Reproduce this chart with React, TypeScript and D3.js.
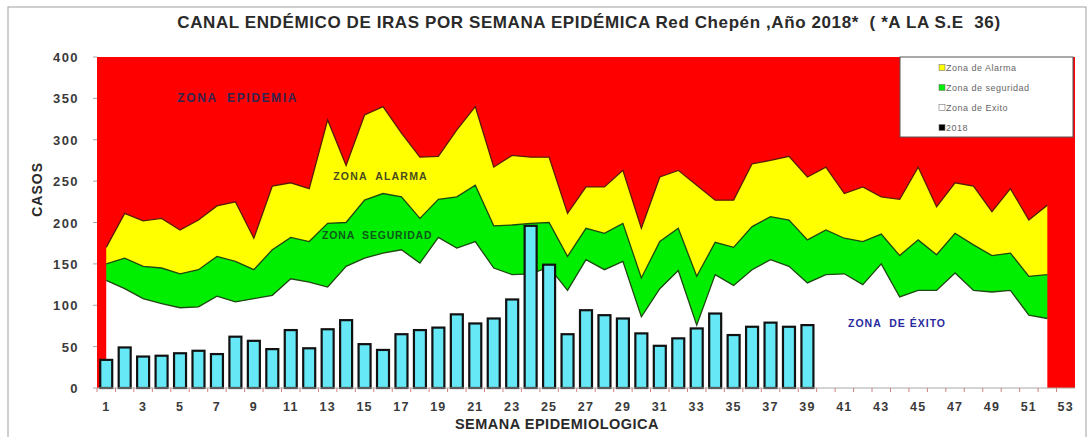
import { useEffect } from "react";
import * as d3 from "d3";

// semanas epidemiologicas 1..53
const semanas = d3.range(1, 54);

// casos 2018 (hasta la S.E 39)
const casos2018 = [
  34, 49, 38, 39, 42, 45, 41, 62, 57, 47, 70, 48, 71, 82, 53, 46, 65, 70, 73, 89,
  78, 84, 107, 196, 149, 65, 94, 88, 84, 66, 51, 60, 72, 90, 64, 74, 79, 74, 76,
];

// limite superior zona de alarma (semanas 1..52)
const zonaAlarma = [
  170, 211, 202, 205, 191, 203, 220, 225, 181, 244, 248, 241, 324, 269, 330, 340,
  308, 279, 280, 312, 340, 267, 281, 279, 279, 211, 243, 243, 263, 193, 255, 263,
  245, 227, 227, 271, 275, 280, 255, 267, 235, 243, 231, 228, 267, 219, 248, 244,
  213, 241, 203, 221,
];

// limite superior zona de seguridad
const zonaSeguridad = [
  150, 157, 147, 145, 138, 143, 159, 153, 143, 167, 182, 177, 199, 200, 227, 235,
  231, 205, 228, 231, 245, 196, 197, 199, 200, 159, 193, 187, 199, 133, 177, 193,
  135, 176, 170, 195, 207, 203, 179, 191, 181, 177, 186, 160, 179, 161, 187, 173,
  160, 163, 135, 137,
];

// limite superior zona de exito
const zonaExito = [
  130, 120, 108, 102, 97, 98, 111, 104, 108, 112, 132, 128, 122, 147, 157, 163,
  167, 151, 182, 169, 177, 145, 137, 138, 146, 118, 155, 143, 153, 86, 120, 142,
  76, 137, 124, 143, 155, 147, 127, 137, 138, 125, 150, 110, 118, 118, 139, 118,
  116, 118, 88, 84,
];

const yTicks = [0, 50, 100, 150, 200, 250, 300, 350, 400];

const legendItems = [
  { label: "Zona de Alarma", color: "#ffff00" },
  { label: "Zona de seguridad", color: "#00ee00" },
  { label: "Zona de Exito", color: "#ffffff" },
  { label: "2018", color: "#000000" },
];

const W = 1090;
const H = 437;
const margin = { top: 57, right: 15, bottom: 49, left: 97 };
const FONT = "Arial, 'Liberation Sans', sans-serif";

const App = () => {
  useEffect(() => {
    document.body.style.margin = "0";
  }, []);

  const x = d3
    .scaleBand<number>()
    .domain(semanas)
    .range([margin.left, W - margin.right])
    .paddingInner(0.35)
    .paddingOuter(0.175);

  const y = d3
    .scaleLinear()
    .domain([0, 400])
    .range([H - margin.bottom, margin.top]);

  // centro de la semana (admite fracciones, para ubicar rotulos)
  const xw = d3
    .scaleLinear()
    .domain([0.5, semanas.length + 0.5])
    .range([margin.left, W - margin.right]);
  const cx = (w: number) => (x(w) as number) + x.bandwidth() / 2;

  const zoneWeeks = semanas.slice(0, 52);

  const areaBetween = (lower: (i: number) => number, upper: number[]) =>
    d3
      .area<number>()
      .x((w) => cx(w))
      .y0((_, i) => y(lower(i)))
      .y1((_, i) => y(upper[i]))(zoneWeeks) as string;

  const lineOf = (vals: number[]) =>
    d3
      .line<number>()
      .x((w) => cx(w))
      .y((_, i) => y(vals[i]))(zoneWeeks) as string;

  const plotW = W - margin.right - margin.left;
  const y0 = y(0);
  const pre = { whiteSpace: "pre" as const };

  return (
    <svg width={W} height={H} style={{ display: "block", fontFamily: FONT }}>
      <rect x={0} y={0} width={W} height={H} fill="#ffffff" />
      <rect x={8} y={7} width={1078} height={440} fill="none" stroke="#a0a0a0" strokeWidth={1} />

      <text x={589} y={28} textAnchor="middle" fontSize={17} fontWeight="bold" fill="#2a2a2a" letterSpacing={0.6} style={pre}>
        {"CANAL ENDÉMICO DE IRAS POR SEMANA EPIDÉMICA Red Chepén ,Año 2018*  ( *A LA S.E  36)"}
      </text>

      {/* zona epidemica: fondo */}
      <rect x={margin.left} y={y(400)} width={plotW} height={y0 - y(400)} fill="#ff0000" />

      {/* zona de exito (blanco), seguridad (verde), alarma (amarillo) */}
      <path d={areaBetween(() => 0, zonaExito)} fill="#ffffff" />
      <path d={areaBetween((i) => zonaExito[i], zonaSeguridad)} fill="#00ee00" />
      <path d={areaBetween((i) => zonaSeguridad[i], zonaAlarma)} fill="#ffff00" />
      <path d={lineOf(zonaExito)} fill="none" stroke="#1d4a12" strokeWidth={1.3} />
      <path d={lineOf(zonaSeguridad)} fill="none" stroke="#1d4a12" strokeWidth={1.3} />
      <path d={lineOf(zonaAlarma)} fill="none" stroke="#5a1a0a" strokeWidth={1.3} />

      {/* barras 2018 */}
      {casos2018.map((v, i) => (
        <rect
          key={i}
          x={x(semanas[i]) as number}
          y={y(v)}
          width={x.bandwidth()}
          height={y0 - y(v)}
          fill="#66e8f6"
          stroke="#111111"
          strokeWidth={2.2}
        />
      ))}

      {/* eje x */}
      <line x1={margin.left} x2={W - margin.right} y1={y0} y2={y0} stroke="#a8a8a8" strokeWidth={1} />
      {semanas.map((w) => (
        <line
          key={w}
          x1={xw(w - 0.5)}
          x2={xw(w - 0.5)}
          y1={y0}
          y2={y0 + 4}
          stroke="#d08080"
          strokeWidth={1}
        />
      ))}
      {semanas
        .filter((w) => w % 2 === 1)
        .map((w) => (
          <text key={w} x={cx(w)} y={y0 + 23} textAnchor="middle" fontSize={12.5} fontWeight="bold" fill="#3a3a3a" letterSpacing={1.2}>
            {w}
          </text>
        ))}
      <text x={557} y={429} textAnchor="middle" fontSize={14.5} fontWeight="bold" fill="#2a2a2a" letterSpacing={0.5}>
        SEMANA EPIDEMIOLOGICA
      </text>

      {/* eje y */}
      {yTicks.map((t) => (
        <g key={t}>
          <line x1={margin.left - 4} x2={margin.left} y1={y(t)} y2={y(t)} stroke="#a8a8a8" />
          <text x={79} y={y(t) + 5} textAnchor="end" fontSize={13} fontWeight="bold" fill="#3a3a3a" letterSpacing={1.4}>
            {t}
          </text>
        </g>
      ))}
      <text
        transform={`translate(42, ${y(240)}) rotate(-90)`}
        textAnchor="middle"
        fontSize={14}
        fontWeight="bold"
        fill="#2a2a2a"
        letterSpacing={1}
      >
        CASOS
      </text>

      {/* etiquetas de zonas */}
      <text x={xw(4.85)} y={y(346)} fontSize={12} fontWeight="bold" fill="#33244f" letterSpacing={1.6} style={pre}>
        {"ZONA  EPIDEMIA"}
      </text>
      <text x={xw(13.3)} y={y(251)} fontSize={10.5} fontWeight="bold" fill="#4a4a20" letterSpacing={1.2} style={pre}>
        {"ZONA  ALARMA"}
      </text>
      <text x={xw(12.7)} y={y(180)} fontSize={10.5} fontWeight="bold" fill="#0d5a1a" letterSpacing={0.8} style={pre}>
        {"ZONA  SEGURIDAD"}
      </text>
      <text x={xw(41.2)} y={y(74)} fontSize={10.5} fontWeight="bold" fill="#2a2aa0" letterSpacing={1} style={pre}>
        {"ZONA  DE ÉXITO"}
      </text>

      {/* leyenda */}
      <rect x={900} y={57} width={173} height={80} fill="#ffffff" stroke="#555555" strokeWidth={1} />
      {legendItems.map((d, i) => (
        <g key={d.label} transform={`translate(939, ${68 + i * 20})`}>
          <rect x={0} y={-3.5} width={6} height={6} fill={d.color} stroke="#777777" strokeWidth={0.6} />
          <text x={7} y={3} fontSize={9} fill="#666666" letterSpacing={0.5}>
            {d.label}
          </text>
        </g>
      ))}
    </svg>
  );
};

export default App;
